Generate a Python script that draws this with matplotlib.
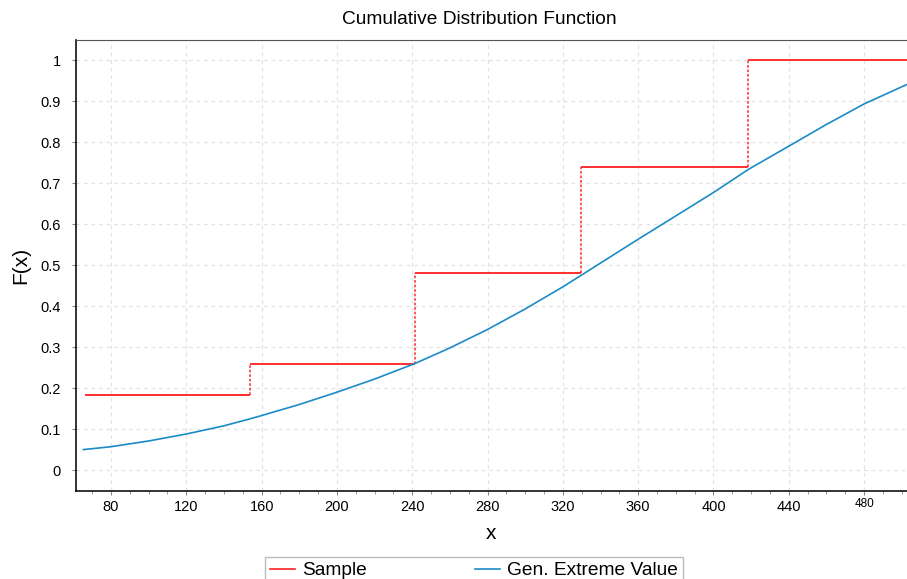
import matplotlib
matplotlib.use("Agg")
import matplotlib.pyplot as plt
from matplotlib.lines import Line2D
from matplotlib.ticker import MultipleLocator

plt.rcParams['font.family'] = ['Liberation Sans', 'DejaVu Sans']

# empirical CDF (sample) steps
sample_x = [66.0, 153.8, 241.5, 329.7, 418.4]
sample_f = [0.184, 0.259, 0.481, 0.739, 1.0]
x_end = 503.0

# fitted Gen. Extreme Value CDF
gev_x = [65.3, 80, 100, 120, 140, 153.8, 160, 180, 200, 220, 241.5, 260, 280,
         300, 320, 329.7, 340, 360, 380, 400, 418.4, 440, 460, 480, 502.5]
gev_f = [0.050, 0.057, 0.071, 0.088, 0.108, 0.125, 0.133, 0.160, 0.190, 0.222,
         0.260, 0.298, 0.343, 0.393, 0.447, 0.475, 0.505, 0.563, 0.620, 0.677,
         0.733, 0.790, 0.843, 0.893, 0.940]

x_ticks = [80, 120, 160, 200, 240, 280, 320, 360, 400, 440, 480]
y_ticks = [0, 0.1, 0.2, 0.3, 0.4, 0.5, 0.6, 0.7, 0.8, 0.9, 1.0]
y_tick_labels = ['0', '0.1', '0.2', '0.3', '0.4', '0.5', '0.6', '0.7', '0.8', '0.9', '1']

RED = '#ff2020'
BLUE = '#1a8bc7'

fig = plt.figure(figsize=(9.07, 5.79), dpi=100)
ax = fig.add_axes([76 / 907, 88 / 579, 831 / 907, 451 / 579])

# sample step function: solid treads, dotted risers
ends = sample_x[1:] + [x_end]
ax.hlines(sample_f, sample_x, ends, color=RED, linewidth=1.3, zorder=3)
ax.vlines(sample_x[1:], sample_f[:-1], sample_f[1:], color=RED,
          linewidth=1.3, linestyles=(0, (1.5, 1.0)), alpha=0.8, zorder=3)

ax.plot(gev_x, gev_f, color=BLUE, linewidth=1.2, zorder=4)

ax.set_xlim(61.4, 502.8)
ax.set_ylim(-0.051, 1.049)
ax.set_xticks(x_ticks)
ax.set_yticks(y_ticks, y_tick_labels)
ax.xaxis.set_minor_locator(MultipleLocator(10))
ax.tick_params(axis='both', which='major', labelsize=10.5, length=3,
               color='#888888')
ax.tick_params(axis='x', which='minor', length=2, color='#888888')
ax.tick_params(axis='y', pad=8)

# 480 label is drawn smaller and a bit higher in the original
xlabels = [str(t) for t in x_ticks]
xlabels[-1] = ''
ax.set_xticklabels(xlabels)
ax.text(480, -0.015, '480', transform=ax.get_xaxis_transform(),
        ha='center', va='top', fontsize=8.5)

ax.grid(True, which='major', color='#e2e2e2', linestyle=(0, (3, 3)), linewidth=0.9)
ax.set_axisbelow(True)

ax.spines['right'].set_visible(False)
ax.spines['top'].set_color('#555555')
ax.spines['left'].set_color('#111111')
ax.spines['bottom'].set_color('#111111')
ax.spines['left'].set_linewidth(1.2)
ax.spines['bottom'].set_linewidth(1.2)

ax.set_xlabel('x', fontsize=15, labelpad=7)
ax.set_ylabel('F(x)', fontsize=15, labelpad=7)

fig.text(479 / 907, 1 - 19 / 579, 'Cumulative Distribution Function',
         ha='center', va='center', fontsize=13.8)

handles = [Line2D([], [], color=RED, linewidth=1.2),
           Line2D([], [], color=BLUE, linewidth=1.2)]
leg = fig.legend(handles, ['Sample', 'Gen. Extreme Value'], ncol=2,
                 loc='upper center', bbox_to_anchor=(474 / 907, 1 - 557 / 579),
                 fontsize=13.8, frameon=True, fancybox=False, borderpad=0.25,
                 handlelength=1.3, handletextpad=0.4, columnspacing=5.6,
                 borderaxespad=0)
leg.get_frame().set_edgecolor('#aaaaaa')
leg.get_frame().set_linewidth(1.0)

fig.savefig('out.png', dpi=100)
